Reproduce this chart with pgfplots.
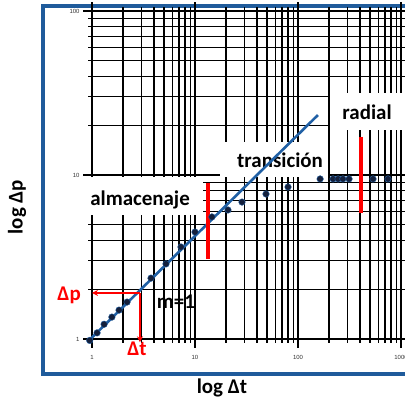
\documentclass[border=0pt]{standalone}
\usepackage{pgfplots}
\pgfplotsset{compat=1.18}
\usepackage{fontspec}
\setmainfont{Carlito}
\newfontfamily\tickfont{Liberation Sans}
\usetikzlibrary{arrows.meta}
\definecolor{frameblue}{RGB}{31,91,155}
\definecolor{lineblue}{RGB}{32,96,165}
\definecolor{navy}{RGB}{20,32,60}
\begin{document}
\begin{tikzpicture}[x=1bp,y=1bp]
\path[use as bounding box] (-92,-63) rectangle (313,339);
\draw[frameblue, line width=3.5bp] (-49,-35) rectangle (330,333);
\begin{axis}[
  at={(0,0)}, anchor=south west,
  scale only axis, width=309bp, height=328bp,
  xmode=log, ymode=log,
  xmin=1, xmax=1000, ymin=1, ymax=100,
  clip=false,
  grid=both,
  major grid style={black, line width=1.1bp},
  minor grid style={black, line width=1.1bp},
  axis line style={black, line width=1.1bp},
  tick align=outside,
  major tick length=9bp, minor tick length=4bp,
  tick style={black, line width=1.1bp},
  xtick={1,10,100,1000}, ytick={1,10,100},
  xticklabels={1,10,100,1000}, yticklabels={1,10,100},
  xticklabel style={font=\tickfont\fontsize{6}{7}\selectfont, text=black!80, yshift=-4bp},
  yticklabel style={font=\tickfont\fontsize{6}{7}\selectfont, text=black!80},
  xlabel={}, ylabel={},
]
% white label boxes
\node[fill=white, minimum width=120bp, minimum height=38bp, inner sep=0pt] at (axis cs:3.13,7.45) {};
\node[fill=white, minimum width=108bp, minimum height=35bp, inner sep=0pt] at (axis cs:58.5,12.4) {};
\node[fill=white, minimum width=75bp, minimum height=37bp, inner sep=0pt] at (axis cs:473,24.4) {};
\node[font=\bfseries\fontsize{21}{24}\selectfont, text=black] at (axis cs:2.93,7.04) {almacenaje};
\node[font=\bfseries\fontsize{21}{24}\selectfont, text=black] at (axis cs:66.9,12.3) {transición};
\node[font=\bfseries\fontsize{21}{24}\selectfont, text=black] at (axis cs:468,24.2) {radial};
% slope line
\addplot[lineblue, line width=2.6bp] coordinates {(0.92,0.97) (156,23.2)};
% data
\addplot[only marks, mark=*, mark size=3.3bp, navy, mark options={fill=navy, draw=lineblue}] coordinates {
(0.95,0.98) (1.12,1.09) (1.31,1.23) (1.56,1.36) (1.83,1.50) (2.19,1.68)
(3.74,2.35) (5.23,2.87) (7.31,3.64) (10,4.49) (14.6,5.55) (20.9,6.12)
(28.6,6.84) (48.9,7.66) (80,8.45) (164,9.46) (219,9.46) (245,9.46)
(273,9.46) (313,9.46) (535,9.46) (748,9.46)};
% red boundaries
\addplot[red, line width=3.2bp] coordinates {(13.4,8.94) (13.4,3.07)};
\addplot[red, line width=3.2bp] coordinates {(409,17.1) (409,5.86)};
% red arrows
\addplot[red, line width=1.8bp, -{Stealth[length=6bp,width=6bp]}] coordinates {(2.92,1.91) (1.0,1.91)};
\addplot[red, line width=1.8bp, -{Stealth[length=6bp,width=6bp]}] coordinates {(2.92,1.91) (2.92,0.955)};
\node[font=\bfseries\fontsize{21}{24}\selectfont, text=red] at (axis cs:0.60,1.85) {Δp};
\node[font=\bfseries\fontsize{21}{24}\selectfont, text=red] at (axis cs:2.73,0.87) {Δt};
\node[font=\bfseries\fontsize{21}{24}\selectfont, text=black] at (axis cs:6.54,1.68) {m=1};
\end{axis}
\node[font=\bfseries\fontsize{21}{24}\selectfont, text=black] at (130,-49) {log Δt};
\node[font=\bfseries\fontsize{21}{24}\selectfont, text=black, rotate=90] at (-75,132) {log Δp};
\end{tikzpicture}
\end{document}
